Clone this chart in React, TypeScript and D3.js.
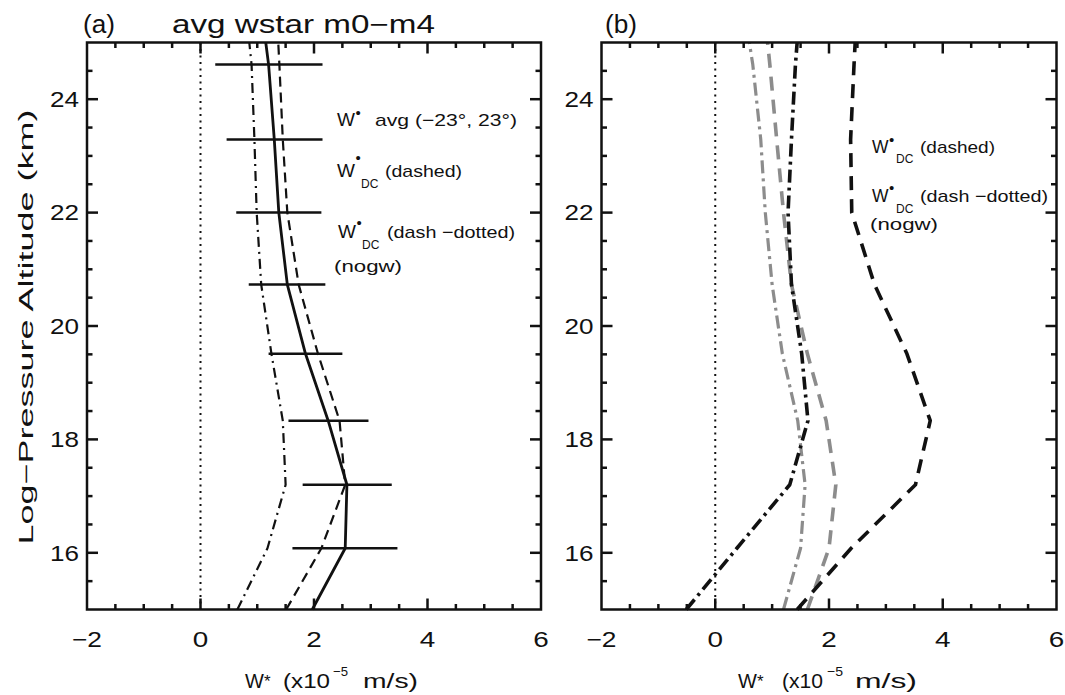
import React from 'react';
import * as d3 from 'd3';

// ---------- data ----------
const altitudes = [15, 16.08, 17.2, 18.33, 19.51, 20.73, 22.0, 23.29, 24.61, 25];
// panel (a)
const avgW = [1.97, 2.55, 2.58, 2.25, 1.85, 1.53, 1.38, 1.3, 1.2, 1.15];
const dcW = [1.51, 2.13, 2.55, 2.45, 2.07, 1.73, 1.53, 1.45, 1.39, 1.37];
const dcNogwW = [0.65, 1.18, 1.5, 1.45, 1.25, 1.07, 0.99, 0.95, 0.9, 0.86];
const errAltitudes = [16.08, 17.2, 18.33, 19.51, 20.73, 22.0, 23.29, 24.61];
const errCenter = [2.545, 2.585, 2.255, 1.85, 1.525, 1.38, 1.305, 1.205];
const errHalfWidth = [0.925, 0.785, 0.705, 0.65, 0.675, 0.75, 0.845, 0.945];
// panel (b)
const bBlackDashed = [1.44, 2.39, 3.52, 3.78, 3.37, 2.8, 2.4, 2.38, 2.44, 2.46];
const bBlackDashDot = [-0.51, 0.38, 1.31, 1.63, 1.52, 1.34, 1.28, 1.34, 1.41, 1.44];
const bGrayDashed = [1.62, 2.0, 2.12, 1.95, 1.62, 1.34, 1.2, 1.08, 0.96, 0.92];
const bGrayDashDot = [1.2, 1.5, 1.58, 1.45, 1.18, 1.0, 0.88, 0.8, 0.66, 0.6];

const xTicks = [-2, 0, 2, 4, 6];
const xTickLabels = ['\u22122', '0', '2', '4', '6'];
const yTicks = [16, 18, 20, 22, 24];
const yTickLabels = ['16', '18', '20', '22', '24'];
const xDomain = [-2, 6];
const yDomain = [15, 25];

const FONT = "'Liberation Sans', Arial, Helvetica, sans-serif";
const GRAY = '#8c8c8c';

type TProps = {
  x: number; y: number; size: number; len?: number; anchor?: string;
  rot?: number; children: React.ReactNode; fill?: string;
};
function T({ x, y, size, len, anchor = 'start', rot = 0, children, fill = '#111' }: TProps) {
  return (
    <text
      x={rot ? 0 : x}
      y={rot ? 0 : y}
      transform={rot ? `translate(${x},${y}) rotate(${rot})` : undefined}
      fontFamily={FONT}
      fontSize={size}
      textAnchor={anchor}
      fill={fill}
      textLength={len}
      lengthAdjust={len ? 'spacingAndGlyphs' : undefined}
    >
      {children}
    </text>
  );
}

type Series = { values: number[]; stroke: string; width: number; dash?: string };

function Panel({ left, right, series, errors }: { left: number; right: number; series: Series[]; errors: boolean }) {
  const top = 42.5;
  const bottom = 609.5;
  const xs = d3.scaleLinear().domain(xDomain).range([left, right]);
  const ys = d3.scaleLinear().domain(yDomain).range([bottom, top]);
  const minorX = d3.range(-1.5, 6, 0.5).filter((v) => Math.abs(v % 2) > 1e-6);
  const minorY = d3.range(15.5, 25, 0.5).filter((v) => Math.abs(v % 2) > 1e-6);
  const majorLen = 11;
  const minorLen = 5.5;
  const line = (vals: number[]) =>
    d3.line<number>().x((d) => xs(d)).y((_, i) => ys(altitudes[i]))(vals) || '';
  return (
    <g>
      {/* zero line */}
      <line x1={xs(0)} x2={xs(0)} y1={top} y2={bottom} stroke="#111" strokeWidth={2} strokeDasharray="2,4.5" />
      {series.map((s, i) => (
        <path key={i} d={line(s.values)} fill="none" stroke={s.stroke} strokeWidth={s.width}
          strokeDasharray={s.dash} strokeLinejoin="round" />
      ))}
      {errors && errAltitudes.map((a, i) => (
        <line key={i} x1={xs(errCenter[i] - errHalfWidth[i])} x2={xs(errCenter[i] + errHalfWidth[i])}
          y1={ys(a)} y2={ys(a)} stroke="#111" strokeWidth={2.5} />
      ))}
      {/* ticks */}
      {xTicks.slice(1, -1).map((v) => (
        <g key={'xm' + v}>
          <line x1={xs(v)} x2={xs(v)} y1={bottom} y2={bottom - majorLen} stroke="#111" strokeWidth={2.5} />
          <line x1={xs(v)} x2={xs(v)} y1={top} y2={top + majorLen} stroke="#111" strokeWidth={2.5} />
        </g>
      ))}
      {minorX.map((v) => (
        <g key={'xn' + v}>
          <line x1={xs(v)} x2={xs(v)} y1={bottom} y2={bottom - minorLen} stroke="#111" strokeWidth={2.5} />
          <line x1={xs(v)} x2={xs(v)} y1={top} y2={top + minorLen} stroke="#111" strokeWidth={2.5} />
        </g>
      ))}
      {yTicks.map((v) => (
        <g key={'ym' + v}>
          <line x1={left} x2={left + majorLen} y1={ys(v)} y2={ys(v)} stroke="#111" strokeWidth={2.5} />
          <line x1={right} x2={right - majorLen} y1={ys(v)} y2={ys(v)} stroke="#111" strokeWidth={2.5} />
        </g>
      ))}
      {minorY.map((v) => (
        <g key={'yn' + v}>
          <line x1={left} x2={left + minorLen} y1={ys(v)} y2={ys(v)} stroke="#111" strokeWidth={2.5} />
          <line x1={right} x2={right - minorLen} y1={ys(v)} y2={ys(v)} stroke="#111" strokeWidth={2.5} />
        </g>
      ))}
      <rect x={left} y={top} width={right - left} height={bottom - top} fill="none" stroke="#111" strokeWidth={2.5} />
      {/* tick labels */}
      {xTicks.map((v, i) => (
        <T key={'xl' + v} x={xs(v)} y={647} size={22} anchor="middle" len={xTickLabels[i].length > 1 ? 30 : 15.5}>
          {xTickLabels[i]}
        </T>
      ))}
      {yTicks.map((v, i) => (
        <T key={'yl' + v} x={left - 8} y={ys(v) + 7.8} size={22} anchor="end" len={29}>
          {yTickLabels[i]}
        </T>
      ))}
    </g>
  );
}

export default function App() {
  const seriesA: Series[] = [
    { values: dcNogwW, stroke: '#111', width: 2.2, dash: '10,5,2,5' },
    { values: dcW, stroke: '#111', width: 2.2, dash: '10,6' },
    { values: avgW, stroke: '#111', width: 2.8 },
  ];
  const seriesB: Series[] = [
    { values: bGrayDashDot, stroke: GRAY, width: 3.2, dash: '13,5,3,5' },
    { values: bGrayDashed, stroke: GRAY, width: 3.6, dash: '14,9' },
    { values: bBlackDashDot, stroke: '#111', width: 3.6, dash: '13,5,3,5' },
    { values: bBlackDashed, stroke: '#111', width: 3.6, dash: '14,9' },
  ];
  return (
    <div style={{ position: 'absolute', left: 0, top: 0 }}>
      <svg width={1065} height={695} viewBox="0 0 1065 695" style={{ display: 'block', background: '#fff' }}>
        <rect x={0} y={0} width={1065} height={695} fill="#fff" />
        {/* titles */}
        <T x={83} y={33} size={25} len={32}>(a)</T>
        <T x={172} y={33} size={25} len={263}>avg  wstar  m0{'\u2212'}m4</T>
        <T x={605} y={33} size={25} len={32}>(b)</T>

        <Panel left={87} right={541} series={seriesA} errors={true} />
        <Panel left={601.5} right={1056.5} series={seriesB} errors={false} />

        {/* y axis title */}
        <T x={33} y={327} size={20} anchor="middle" rot={-90} len={435}>Log{'\u2212'}Pressure Altitude (km)</T>

        {/* x axis titles */}
        <T x={245} y={688} size={20}>W</T>
        <T x={264} y={687} size={17}>*</T>
        <T x={283} y={688} size={20} len={47}>(x10</T>
        <T x={333} y={676} size={13} len={15}>{'\u2212'}5</T>
        <T x={363} y={688} size={20} len={55}>m/s)</T>

        <T x={738} y={688} size={20}>W</T>
        <T x={757} y={687} size={17}>*</T>
        <T x={782} y={688} size={20} len={41}>(x10</T>
        <T x={827} y={676} size={13} len={16}>{'\u2212'}5</T>
        <T x={855} y={688} size={20} len={62}>m/s)</T>

        {/* legend panel (a) */}
        <T x={337} y={126} size={19}>W</T>
        <T x={355.5} y={117.5} size={15}>{'\u2022'}</T>
        <T x={375} y={126} size={17} len={142}>avg ({'\u2212'}23°, 23°)</T>

        <T x={337} y={177} size={19}>W</T>
        <T x={355.5} y={162.5} size={15}>{'\u2022'}</T>
        <T x={361} y={188} size={12}>DC</T>
        <T x={385} y={177} size={17} len={77}>(dashed)</T>

        <T x={338} y={238} size={19}>W</T>
        <T x={356.5} y={227.5} size={15}>{'\u2022'}</T>
        <T x={362} y={249} size={12}>DC</T>
        <T x={387} y={238} size={17} len={128}>(dash {'\u2212'}dotted)</T>
        <T x={334} y={272} size={17} len={68}>(nogw)</T>

        {/* legend panel (b) */}
        <T x={872} y={153} size={17.5}>W</T>
        <T x={889} y={145} size={15}>{'\u2022'}</T>
        <T x={896} y={163} size={12}>DC</T>
        <T x={920} y={153} size={17} len={75}>(dashed)</T>

        <T x={872} y={202} size={17.5}>W</T>
        <T x={889} y={192.5} size={15}>{'\u2022'}</T>
        <T x={896} y={213} size={12}>DC</T>
        <T x={920} y={202} size={17} len={128}>(dash {'\u2212'}dotted)</T>
        <T x={870} y={230} size={17} len={68}>(nogw)</T>
      </svg>
    </div>
  );
}
